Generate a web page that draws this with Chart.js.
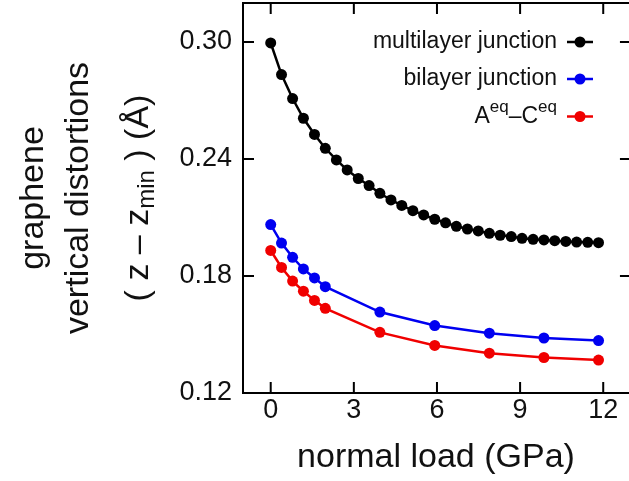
<!DOCTYPE html>
<html>
<head>
<meta charset="utf-8">
<script src="https://cdn.jsdelivr.net/npm/chart.js@4.4.1/dist/chart.umd.min.js"></script>
<style>
  html, body { margin: 0; padding: 0; background: #ffffff; overflow: hidden; }
  canvas { display: block; }
</style>
</head>
<body>
<canvas id="c" width="629" height="481"></canvas>
<script>
// ---- data ----
const loadMulti = [0, 0.39, 0.79, 1.18, 1.58, 1.97, 2.37, 2.76, 3.16, 3.55, 3.94, 4.34, 4.73, 5.13, 5.52, 5.92, 6.31, 6.70, 7.10, 7.49, 7.89, 8.28, 8.68, 9.07, 9.47, 9.86, 10.25, 10.65, 11.04, 11.44, 11.83];
const multilayer = [0.2995, 0.2833, 0.2710, 0.2609, 0.2526, 0.2455, 0.2395, 0.2344, 0.2300, 0.2264, 0.2224, 0.2190, 0.2162, 0.2135, 0.2113, 0.2091, 0.2073, 0.2055, 0.2041, 0.2031, 0.2019, 0.2009, 0.2002, 0.1993, 0.1988, 0.1985, 0.1981, 0.1977, 0.1974, 0.1973, 0.1971];
const loadPair = [0, 0.39, 0.79, 1.18, 1.58, 1.97, 3.94, 5.92, 7.89, 9.86, 11.83];
const bilayer = [0.2064, 0.1969, 0.1896, 0.1836, 0.1790, 0.1745, 0.1615, 0.1546, 0.1507, 0.1482, 0.1469];
const aeqCeq = [0.1931, 0.1844, 0.1774, 0.1722, 0.1675, 0.1634, 0.1511, 0.1444, 0.1404, 0.1382, 0.1369];
const xTicks = [0, 3, 6, 9, 12];
const yTicks = [0.12, 0.18, 0.24, 0.30];
const seriesNames = ['multilayer junction', 'bilayer junction', 'A–C'];
const xTitle = 'normal load (GPa)';
const yTitleLines = ['graphene', 'vertical distortions'];

const X_MIN = -1, X_FRAME = 13, X_VISIBLE = 12.93;  // plot frame runs to 13, window cuts it slightly earlier
const FONT = '"Liberation Sans", Arial, Helvetica, sans-serif';
const COLORS = ['#000000', '#0000f0', '#f00000'];
const TEXT = '#111111';

function pts(xs, ys) { return xs.map((x, i) => ({ x: x, y: ys[i] })); }

function ds(label, data, color) {
  return {
    label: label, data: data,
    borderColor: color, backgroundColor: color,
    borderWidth: 2.5, pointRadius: 5.5, pointHoverRadius: 5.5,
    pointBorderWidth: 0, tension: 0, fill: false
  };
}

function noPad(s) { s.paddingTop = 0; s.paddingBottom = 0; s.paddingLeft = 0; s.paddingRight = 0; }

const framePlugin = {
  id: 'frame',
  beforeDatasetsDraw(chart) {
    const { ctx, chartArea: a, scales } = chart;
    const right = scales.x.getPixelForValue(X_FRAME);
    ctx.save();
    ctx.strokeStyle = '#000';
    ctx.lineWidth = 2;
    ctx.strokeRect(a.left, a.top, right - a.left, a.bottom - a.top);
    const L = 11;
    ctx.beginPath();
    xTicks.forEach(v => {
      const px = scales.x.getPixelForValue(v);
      ctx.moveTo(px, a.bottom); ctx.lineTo(px, a.bottom - L);
      ctx.moveTo(px, a.top); ctx.lineTo(px, a.top + L);
    });
    yTicks.forEach(v => {
      const py = scales.y.getPixelForValue(v);
      ctx.moveTo(a.left, py); ctx.lineTo(a.left + L, py);
      ctx.moveTo(right, py); ctx.lineTo(right - L, py);
    });
    ctx.stroke();
    ctx.restore();
  },
  afterDraw(chart) {
    const { ctx } = chart;
    // ---- y axis title (three rotated lines) ----
    ctx.save();
    ctx.fillStyle = TEXT;
    const yc = 198;
    const big = 34, sub = 24;
    const baselines = [43, 88, 148];
    yTitleLines.forEach((t, i) => {
      ctx.save();
      ctx.translate(baselines[i], yc);
      ctx.rotate(-Math.PI / 2);
      ctx.font = big + 'px ' + FONT;
      ctx.textAlign = 'center';
      ctx.textBaseline = 'alphabetic';
      ctx.fillText(t, 0, 0);
      ctx.restore();
    });
    // third line with subscript
    const parts = [
      { t: '( z – z', s: big, dy: 0 },
      { t: 'min', s: sub, dy: 6 },
      { t: ' ) (Å)', s: big, dy: 0 }
    ];
    ctx.save();
    ctx.translate(baselines[2], yc);
    ctx.rotate(-Math.PI / 2);
    ctx.textAlign = 'left';
    ctx.textBaseline = 'alphabetic';
    let total = 0;
    parts.forEach(p => { ctx.font = p.s + 'px ' + FONT; p.w = ctx.measureText(p.t).width; total += p.w; });
    let xx = -total / 2;
    parts.forEach(p => { ctx.font = p.s + 'px ' + FONT; ctx.fillText(p.t, xx, p.dy); xx += p.w; });
    ctx.restore();

    // ---- legend ----
    const rowsY = [42, 79, 116.5];
    const textRight = 557;
    const lx0 = 567, lx1 = 593, mx = 580;
    const lf = 23, sf = 17;
    chart.data.datasets.forEach((d, i) => {
      const y = rowsY[i];
      ctx.fillStyle = TEXT;
      ctx.textBaseline = 'alphabetic';
      if (i < 2) {
        ctx.font = lf + 'px ' + FONT;
        ctx.textAlign = 'right';
        ctx.fillText(d.label, textRight, y + 6);
      } else {
        const segs = [
          { t: 'A', s: lf, dy: 0 }, { t: 'eq', s: sf, dy: -11 },
          { t: '–C', s: lf, dy: 0 }, { t: 'eq', s: sf, dy: -11 }
        ];
        let tw = 0;
        segs.forEach(p => { ctx.font = p.s + 'px ' + FONT; p.w = ctx.measureText(p.t).width; tw += p.w; });
        let sx = textRight - tw;
        ctx.textAlign = 'left';
        segs.forEach(p => { ctx.font = p.s + 'px ' + FONT; ctx.fillText(p.t, sx, y + 6 + p.dy); sx += p.w; });
      }
      ctx.strokeStyle = d.borderColor;
      ctx.lineWidth = 2.5;
      ctx.beginPath(); ctx.moveTo(lx0, y); ctx.lineTo(lx1, y); ctx.stroke();
      ctx.fillStyle = d.backgroundColor;
      ctx.beginPath(); ctx.arc(mx, y, 5.5, 0, Math.PI * 2); ctx.fill();
    });
    ctx.restore();
  }
};

new Chart(document.getElementById('c'), {
  type: 'line',
  data: {
    datasets: [
      ds(seriesNames[0], pts(loadMulti, multilayer), COLORS[0]),
      ds(seriesNames[1], pts(loadPair, bilayer), COLORS[1]),
      ds(seriesNames[2], pts(loadPair, aeqCeq), COLORS[2])
    ]
  },
  options: {
    responsive: false,
    animation: false,
    events: [],
    layout: { autoPadding: false, padding: { left: 0, top: 3, right: 0, bottom: 0 } },
    plugins: { legend: { display: false }, tooltip: { enabled: false } },
    scales: {
      x: {
        type: 'linear', min: X_MIN, max: X_VISIBLE,
        grid: { display: false, drawTicks: false },
        border: { display: false },
        afterBuildTicks(s) { s.ticks = xTicks.map(v => ({ value: v })); },
        afterFit(s) { s.height = 88; noPad(s); },
        ticks: { color: TEXT, font: { family: FONT, size: 27 }, padding: 1, maxRotation: 0, callback: v => String(v) },
        title: { display: true, text: xTitle, color: TEXT, font: { family: FONT, size: 34 }, padding: { top: 0, bottom: 3 } }
      },
      y: {
        type: 'linear', min: 0.12, max: 0.32,
        grid: { display: false, drawTicks: false },
        border: { display: false },
        afterBuildTicks(s) { s.ticks = yTicks.map(v => ({ value: v })); },
        afterFit(s) { s.width = 243; noPad(s); },
        ticks: { color: TEXT, font: { family: FONT, size: 27 }, padding: 11, callback: v => Number(v).toFixed(2) }
      }
    }
  },
  plugins: [framePlugin]
});
</script>
</body>
</html>
